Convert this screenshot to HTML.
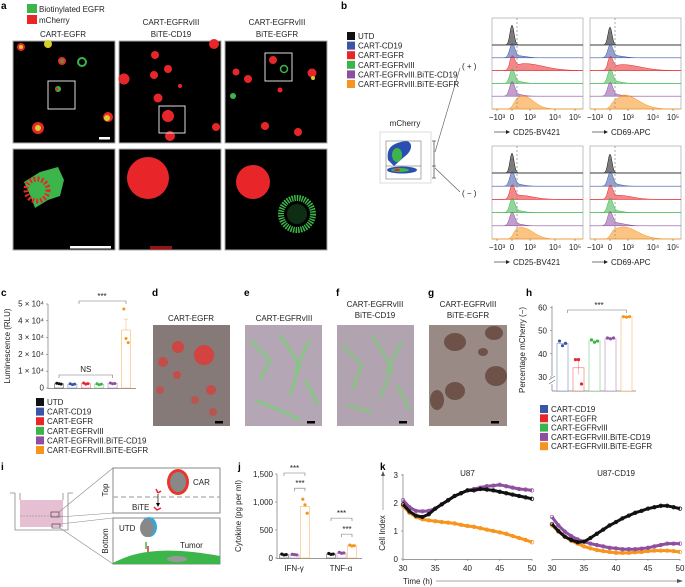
<!DOCTYPE html>
<html><head><meta charset="utf-8">
<style>
html,body{margin:0;padding:0;background:#fff;}
svg{display:block;font-family:"Liberation Sans",sans-serif;}
.t{font-size:8px;fill:#222;}
.lb{font-size:10px;font-weight:bold;fill:#000;}
</style></head>
<body>
<svg id="fig" width="685" height="587" viewBox="0 0 685 587" xmlns="http://www.w3.org/2000/svg">
<g>
<text class="lb" x="1" y="9">a</text>
<rect x="27" y="4" width="10" height="9" fill="#3cb54a"/>
<text class="t" x="39" y="12" font-size="8.5">Biotinylated EGFR</text>
<rect x="27" y="15" width="10" height="9" fill="#e8262a"/>
<text class="t" x="39" y="23" font-size="8.5">mCherry</text>
<text class="t" x="63" y="37" text-anchor="middle" font-size="8.5">CART-EGFR</text>
<text class="t" x="171" y="25" text-anchor="middle" font-size="8.5">CART-EGFRvIII</text>
<text class="t" x="171" y="37" text-anchor="middle" font-size="8.5">BiTE-CD19</text>
<text class="t" x="277" y="25" text-anchor="middle" font-size="8.5">CART-EGFRvIII</text>
<text class="t" x="277" y="37" text-anchor="middle" font-size="8.5">BiTE-EGFR</text>
<g>
<rect x="13" y="41" width="102" height="102" fill="#000" stroke="#aaa"/>
<circle cx="21" cy="47" r="4" fill="#e8262a"/><circle cx="21" cy="47" r="2" fill="#d8d02a"/>
<circle cx="48" cy="44" r="4" fill="#d8d02a"/><circle cx="62" cy="61" r="4" fill="#e8262a"/><circle cx="62" cy="61" r="2.5" fill="#3cb54a" opacity=".6"/>
<circle cx="82" cy="62" r="4" fill="none" stroke="#3cb54a" stroke-width="2"/>
<circle cx="58" cy="89" r="3" fill="#3cb54a"/><circle cx="57" cy="89" r="1.5" fill="#e8262a"/>
<rect x="48" y="81" width="27" height="28" fill="none" stroke="#ddd" stroke-width="1"/>
<circle cx="108" cy="117" r="5" fill="#e8262a"/><circle cx="107" cy="118" r="3" fill="#d8d02a"/>
<circle cx="38" cy="128" r="6" fill="#e8262a"/><circle cx="38" cy="128" r="3" fill="#d8d02a"/>
<rect x="99" y="137" width="11" height="2.5" fill="#fff"/>
</g>
<g>
<rect x="119" y="41" width="102" height="102" fill="#000" stroke="#aaa"/>
<circle cx="155" cy="55" r="4" fill="#e8262a"/><circle cx="214" cy="44" r="5" fill="#e8262a"/>
<circle cx="168" cy="69" r="4" fill="#e8262a"/><circle cx="154" cy="75" r="4" fill="#e8262a"/>
<circle cx="124" cy="79" r="5.5" fill="#e8262a"/><circle cx="180" cy="86" r="2" fill="#e8262a"/>
<circle cx="158" cy="98" r="4.5" fill="#e8262a"/><circle cx="168" cy="116" r="6" fill="#e8262a"/>
<circle cx="170" cy="136" r="5" fill="#e8262a"/><circle cx="216" cy="127" r="4" fill="#e8262a"/>
<rect x="159" y="106" width="26" height="27" fill="none" stroke="#ddd"/>
</g>
<g>
<rect x="225" y="41" width="102" height="102" fill="#000" stroke="#aaa"/>
<circle cx="273" cy="60" r="4" fill="#e8262a"/><circle cx="284" cy="69" r="3.5" fill="none" stroke="#3cb54a" stroke-width="1.5"/>
<rect x="265" y="53" width="27" height="28" fill="none" stroke="#ddd"/>
<circle cx="236" cy="72" r="3.5" fill="#e8262a"/><circle cx="248" cy="79" r="4" fill="#e8262a"/>
<circle cx="312" cy="73" r="4.5" fill="#e8262a"/><circle cx="313" cy="78" r="2" fill="#d8d02a"/>
<circle cx="280" cy="90" r="2.5" fill="#e8262a"/><circle cx="233" cy="96" r="3" fill="#3cb54a"/>
<circle cx="298" cy="132" r="4" fill="#e8262a"/><circle cx="265" cy="126" r="4" fill="#e8262a"/>
</g>
<g>
<rect x="13" y="149" width="102" height="101" fill="#000" stroke="#aaa"/>
<path d="M40 172 L58 167 L64 180 L60 196 L48 200 L35 208 L30 195 L24 182 Z" fill="#3cb54a"/>
<circle cx="37" cy="190" r="11" fill="none" stroke="#e8262a" stroke-width="5" stroke-dasharray="2 2"/>
<rect x="70" y="246" width="41" height="2.5" fill="#fff"/>
</g>
<g>
<rect x="119" y="149" width="102" height="101" fill="#000" stroke="#aaa"/>
<circle cx="148" cy="178" r="21" fill="#e8262a"/>
<rect x="150" y="246" width="22" height="4" fill="#e8262a" opacity=".6"/>
</g>
<g>
<rect x="225" y="149" width="102" height="101" fill="#000" stroke="#aaa"/>
<circle cx="253" cy="182" r="17" fill="#e8262a"/>
<circle cx="297" cy="214" r="16" fill="none" stroke="#3cb54a" stroke-width="6" stroke-dasharray="1.5 1"/>
<circle cx="297" cy="214" r="10" fill="#3cb54a" opacity=".25"/>
</g>
</g>

<g>
<text class="lb" x="341" y="9">b</text>
<g id="blegend"></g>
<text class="t" x="405" y="126" text-anchor="middle" font-size="8">mCherry</text>
<rect x="380" y="132" width="51" height="51" fill="#fff" stroke="#ddd"/>
<path d="M388 160 C386 148 392 143 406 141 C414 142 412 152 404 157 L394 166 Z" fill="#2a4fb0"/>
<ellipse cx="397" cy="155" rx="5" ry="7" fill="#3cb54a"/>
<ellipse cx="402" cy="170" rx="15" ry="3.5" fill="#2a4fb0"/>
<ellipse cx="400" cy="170" rx="9" ry="2" fill="#3cb54a"/><ellipse cx="397" cy="170" rx="3" ry="1.2" fill="#e8262a"/>
<rect x="386" y="141" width="35" height="38" fill="none" stroke="#777" stroke-width=".6"/>
<line x1="386" y1="166" x2="421" y2="166" stroke="#555" stroke-width=".6"/>
<path d="M434 141 L434 178 M432 141 L436 141 M432 178 L436 178 M432 166 L436 166" stroke="#555" fill="none" stroke-width=".8"/>
<line x1="435" y1="152" x2="460" y2="68" stroke="#555" stroke-width=".6"/>
<line x1="435" y1="168" x2="460" y2="192" stroke="#555" stroke-width=".6"/>
<text class="t" x="462" y="69" font-size="8">( + )</text>
<text class="t" x="462" y="196" font-size="8">( − )</text>
<g id="hists"></g>
</g>

<g id="pc">
<text class="lb" x="1" y="296">c</text>
<text class="t" x="10" y="346" transform="rotate(-90 10 346)" text-anchor="middle" font-size="7.5">Luminescence (RLU)</text>
</g>

<g>
<text class="lb" x="152" y="296">d</text>
<text class="t" x="191" y="321" text-anchor="middle" font-size="7.5">CART-EGFR</text>
<rect x="153" y="325" width="77" height="101" fill="#857a77"/>
<circle cx="204" cy="355" r="10" fill="#e03a35" opacity=".85"/><circle cx="178" cy="347" r="6" fill="#e03a35" opacity=".8"/>
<circle cx="163" cy="362" r="5" fill="#e03a35" opacity=".7"/><circle cx="177" cy="375" r="4" fill="#e03a35" opacity=".7"/>
<circle cx="211" cy="390" r="5" fill="#e03a35" opacity=".7"/><circle cx="160" cy="390" r="4" fill="#e03a35" opacity=".6"/>
<circle cx="195" cy="400" r="4" fill="#e03a35" opacity=".6"/><circle cx="213" cy="412" r="4" fill="#e03a35" opacity=".6"/>
<rect x="215" y="421" width="8" height="2.5" fill="#000"/>
</g>
<g>
<text class="lb" x="244" y="296">e</text>
<text class="t" x="284" y="321" text-anchor="middle" font-size="7.5">CART-EGFRvIII</text>
<rect x="245" y="325" width="77" height="101" fill="#b4a6b4"/>
<path d="M250 340 L270 360 L260 380 M280 335 L300 365 L290 395 M310 340 L295 370 M255 400 L280 410 L300 420 M305 380 L318 405" stroke="#7ccc7a" stroke-width="3" fill="none" opacity=".8"/>
<rect x="307" y="421" width="8" height="2.5" fill="#000"/>
</g>
<g>
<text class="lb" x="336" y="296">f</text>
<text class="t" x="375" y="307" text-anchor="middle" font-size="7.5">CART-EGFRvIII</text>
<text class="t" x="375" y="318" text-anchor="middle" font-size="7.5">BiTE-CD19</text>
<rect x="337" y="325" width="77" height="101" fill="#b1a3b0"/>
<path d="M342 345 L362 365 L352 390 M372 335 L392 368 L380 398 M402 342 L386 372 M347 405 L372 412 M397 385 L410 410" stroke="#80c87c" stroke-width="3" fill="none" opacity=".75"/>
<rect x="399" y="421" width="8" height="2.5" fill="#000"/>
</g>
<g>
<text class="lb" x="428" y="296">g</text>
<text class="t" x="468" y="307" text-anchor="middle" font-size="7.5">CART-EGFRvIII</text>
<text class="t" x="468" y="318" text-anchor="middle" font-size="7.5">BiTE-EGFR</text>
<rect x="429" y="325" width="78" height="101" fill="#9a8a85"/>
<ellipse cx="455" cy="342" rx="11" ry="9" fill="#6e5249"/><ellipse cx="494" cy="333" rx="9" ry="7" fill="#6e5249"/>
<ellipse cx="496" cy="376" rx="11" ry="10" fill="#6e5249"/><ellipse cx="455" cy="391" rx="10" ry="9" fill="#6e5249"/>
<ellipse cx="437" cy="400" rx="7" ry="10" fill="#6e5249"/><ellipse cx="483" cy="352" rx="5" ry="4" fill="#6e5249"/>
<rect x="491" y="421" width="8" height="2.5" fill="#000"/>
</g>

<g id="ph">
<text class="lb" x="526" y="296">h</text>
<text class="t" x="525" y="350" transform="rotate(-90 525 350)" text-anchor="middle" font-size="7.5">Percentage mCherry (−)</text>
</g>

<g>
<text class="lb" x="1" y="470">i</text>
<path d="M15 493 L15 530 L68 530 L68 493" fill="none" stroke="#888" stroke-width=".8"/>
<path d="M20 500 L20 527 L63 527 L63 500 Z" fill="#e7bfd2"/>
<path d="M10 493 L15 493 M68 493 L73 493 M20 493 L20 500 M63 493 L63 500" stroke="#888" stroke-width=".8"/>
<line x1="20" y1="516" x2="63" y2="516" stroke="#888" stroke-dasharray="2 1" stroke-width=".6"/>
<rect x="51" y="512" width="8" height="5" fill="none" stroke="#333" stroke-width=".6"/>
<rect x="52" y="524" width="8" height="4" fill="none" stroke="#333" stroke-width=".6"/>
<line x1="59" y1="512" x2="113" y2="468" stroke="#888" stroke-width=".6"/>
<line x1="59" y1="517" x2="113" y2="513" stroke="#888" stroke-width=".6"/>
<line x1="60" y1="524" x2="113" y2="518" stroke="#888" stroke-width=".6"/>
<line x1="60" y1="528" x2="113" y2="564" stroke="#888" stroke-width=".6"/>
<rect x="113" y="468" width="107" height="45" fill="#fff" stroke="#888"/>
<rect x="113" y="518" width="107" height="46" fill="#fff" stroke="#888"/>
<text class="t" x="108" y="490" transform="rotate(-90 108 490)" font-size="8" text-anchor="middle">Top</text>
<text class="t" x="108" y="541" transform="rotate(-90 108 541)" font-size="8" text-anchor="middle">Bottom</text>
<line x1="113" y1="497" x2="220" y2="497" stroke="#aaa" stroke-dasharray="5 3" stroke-width="1.2"/>
<ellipse cx="178" cy="482" rx="11" ry="13" fill="#e8362a"/><ellipse cx="178" cy="482" rx="8" ry="10" fill="#888"/>
<text class="t" x="193" y="485" font-size="8">CAR</text>
<path d="M156 489 L158 493 M158 493 L161 491" stroke="#e8262a" stroke-width="1.5"/>
<line x1="158" y1="494" x2="158" y2="505" stroke="#000" stroke-width=".7"/>
<path d="M156 503 L158 507 L160 503" fill="#000"/>
<text class="t" x="132" y="510" font-size="8">BiTE</text>
<path d="M154 507 L157 510 L161 508" stroke="#e8262a" stroke-width="1.5" fill="none"/>
<ellipse cx="149" cy="527" rx="8" ry="10" fill="#36a6dd"/><ellipse cx="147" cy="528" rx="7" ry="9" fill="#888"/>
<text class="t" x="119" y="531" font-size="8">UTD</text>
<path d="M146 542 L146 549" stroke="#3cb54a" stroke-width="1.5"/><path d="M148 546 L148 552" stroke="#e8262a" stroke-width="1.5"/>
<text class="t" x="180" y="548" font-size="7.5">Tumor</text>
<path d="M113 563 C140 548 175 548 220 556 L220 564 L113 564 Z" fill="#3cb54a"/>
<ellipse cx="177" cy="559" rx="10" ry="3" fill="#999"/>
</g>

<g id="pj">
<text class="lb" x="238" y="470">j</text>
<text class="t" x="241" y="516" transform="rotate(-90 241 516)" text-anchor="middle" font-size="7.5">Cytokine (pg per ml)</text>
</g>

<g id="pk">
<text class="lb" x="380" y="470">k</text>
<text class="t" x="385" y="533" transform="rotate(-90 385 533)" text-anchor="middle" font-size="7.5">Cell Index</text>
<line x1="383" y1="510" x2="383" y2="474" stroke="#888" stroke-width=".7"/>
<path d="M381 476 L383 471 L385 476 Z" fill="#555"/>
<text class="t" x="403" y="584" font-size="7.5">Time (h)</text>
<line x1="436" y1="581" x2="680" y2="581" stroke="#888" stroke-width=".7"/>
<path d="M677 579 L683 581 L677 583 Z" fill="#555"/>
</g>
</svg>
<script>
const NS="http://www.w3.org/2000/svg";
const svg=document.getElementById('fig');
function mk(tag,attrs,parent){const e=document.createElementNS(NS,tag);for(const k in attrs)e.setAttribute(k,attrs[k]);(parent||svg).appendChild(e);return e;}
const groupNames=["UTD","CART-CD19","CART-EGFR","CART-EGFRvIII","CART-EGFRvIII.BiTE-CD19","CART-EGFRvIII.BiTE-EGFR"];
const groupColors=["#111111","#3a55a5","#e8262a","#3ab54a","#8e4fa0","#f7941d"];

function legend(parent,x,y0,dy,idxs,fs){
  idxs.forEach((gi,k)=>{
    const r=mk('rect',{x:x,y:y0+k*dy-7,width:8,height:8,fill:groupColors[gi]},parent);
    
    
    const t=mk('text',{x:x+11,y:y0+k*dy,class:'t','font-size':fs},parent);
    t.textContent=groupNames[gi];
    
    
  });
}
legend(document.getElementById('blegend'),347,39,9.6,[0,1,2,3,4,5],7.5);
legend(document.getElementById('pc'),36,405,9.6,[0,1,2,3,4,5],7.5);
legend(document.getElementById('ph'),540,412,9.3,[1,2,3,4,5],7.5);

// per row: [peakPos, peakHeight, peakWidth, broadPos, broadHeight, broadWidth]
const histCD25plus=[[0,20,2,0,0,1],[0.2,14,2.5,6,2,6],[0.2,12,2.5,12,7,15],[0.2,14,2.5,5,2,5],[0,14,2.5,4,2,5],[4,5,3,11,13,8]];
const histCD69plus=[[0,18,2,0,0,1],[0.3,13,2.5,6,2,6],[0.3,12,2.5,12,6,14],[0.2,14,2.5,5,2,5],[0,13,2.5,4,2,5],[4,4,3,14,14,11]];
const histCD25minus=[[0,20,2,0,0,1],[0.2,14,2.5,5,2,5],[0.2,13,2.5,8,4,10],[0.2,14,2.5,5,2,5],[0,13,2.5,4,2,5],[4,6,3,11,11,8]];
const histCD69minus=[[0,19,2,0,0,1],[0.3,14,2.5,5,2,5],[0.3,13,2.5,9,4,10],[0.2,14,2.5,5,2,5],[0,13,2.5,5,3,7],[4,5,3,13,12,11]];
const histLabels=["−10³","0","10³","10⁴","10⁵"];
const histTickPos=[-15,0,18,43,63];
const hg=document.getElementById('hists');
function histPanel(x0,y0,w,y1,data,label,zero){
  const g=mk('g',{},hg);
  
  
  mk('rect',{x:x0,y:y0,width:w,height:y1-y0,fill:'#fff',stroke:'#999','stroke-width':.6},g);
  const rowH=(y1-y0-27)/5;
  for(let r=0;r<6;r++){
    const base=r<5? y0+27+r*rowH : y1;
    const d=data[r];
    let p=`M${x0} ${base}`;
    for(let xx=x0;xx<=x0+w;xx+=1){
      const u=xx-zero;
      let v=d[1]*Math.exp(-((u-d[0])**2)/(2*d[2]*d[2]));
      if(d[4]>0){const s=u<d[3]?d[5]*0.6:d[5]*1.3; v+=d[4]*Math.exp(-((u-d[3])**2)/(2*s*s))*(u>-3?1:0);}
      p+=` L${xx} ${base-Math.min(v,rowH+13)}`;
    }
    p+=` L${x0+w} ${base} Z`;
    const path=mk('path',{d:p,fill:groupColors[r],'fill-opacity':0.55,stroke:groupColors[r],'stroke-width':.5},g);
    
    
    mk('line',{x1:x0,y1:base,x2:x0+w,y2:base,stroke:groupColors[r],'stroke-width':.5,'stroke-opacity':.6},g);
  }
  mk('line',{x1:zero+5,y1:y0,x2:zero+5,y2:y1,stroke:'#888','stroke-dasharray':'2 2','stroke-width':.7},g);
  histTickPos.forEach((t,i)=>{
    mk('line',{x1:zero+t,y1:y1,x2:zero+t,y2:y1+2,stroke:'#555','stroke-width':.5},g);
    const tx=mk('text',{x:zero+t,y:y1+11,class:'t','font-size':7,'text-anchor':'middle'},g);
    tx.textContent=histLabels[i];
  });
  mk('line',{x1:x0+2,y1:y1+23,x2:x0+14,y2:y1+23,stroke:'#777','stroke-width':1},g);
  mk('path',{d:`M${x0+14} ${y1+21} L${x0+18} ${y1+23} L${x0+14} ${y1+25} Z`,fill:'#222'},g);
  const ax=mk('text',{x:x0+21,y:y1+26,class:'t','font-size':8},g);ax.textContent=label;
}
histPanel(492,18,91,109,histCD25plus,'CD25-BV421',512);
histPanel(590,18,91,109,histCD69plus,'CD69-APC',610);
histPanel(492,146,91,239,histCD25minus,'CD25-BV421',512);
histPanel(590,146,91,239,histCD69minus,'CD69-APC',610);

// panel c
const cCats=["UTD","CART-CD19","CART-EGFR","CART-EGFRvIII","BiTE-CD19","BiTE-EGFR"];
const cMeans=[2500,2200,2600,2200,2700,34500];
const cPts=[[2800,2500,2300],[2500,2000,2300],[3000,2300,2600],[2500,1900,2300],[3000,2500,2700],[47000,29500,27000]];
const cErr=[300,300,400,300,400,6500];
const cTicks=[0,10000,20000,30000,40000,50000];
const cTickLabels=["0","1 × 10⁴","2 × 10⁴","3 × 10⁴","4 × 10⁴","5 × 10⁴"];
(function(){
  const g=document.getElementById('pc');
  const y=v=>388-v/50000*84, x=i=>59+i*13.4;
  mk('line',{x1:48,y1:304,x2:48,y2:389,stroke:'#777','stroke-width':.7},g);
  mk('line',{x1:48,y1:388.5,x2:136,y2:388.5,stroke:'#777','stroke-width':.7},g);
  cTicks.forEach((t,i)=>{mk('line',{x1:46,y1:y(t),x2:48,y2:y(t),stroke:'#777','stroke-width':.6},g);
    const tx=mk('text',{x:44,y:y(t)+2.5,class:'t','font-size':7,'text-anchor':'end'},g);tx.textContent=cTickLabels[i];});
  cMeans.forEach((m,i)=>{
    const c=groupColors[i];
    const b=mk('rect',{x:x(i)-4.5,y:y(m),width:9,height:388-y(m),fill:'#fff',stroke:c,'stroke-width':.8,'stroke-opacity':.5},g);
    
    
    mk('line',{x1:x(i),y1:y(m),x2:x(i),y2:y(m+cErr[i]),stroke:c,'stroke-width':.6,'stroke-opacity':.6},g);
    mk('line',{x1:x(i)-2,y1:y(m+cErr[i]),x2:x(i)+2,y2:y(m+cErr[i]),stroke:c,'stroke-width':.6,'stroke-opacity':.6},g);
    cPts[i].forEach((p,k)=>mk('circle',{cx:x(i)+(k-1)*2.2,cy:y(p),r:1.5,fill:c},g));
  });
  mk('path',{d:`M${x(0)} 378 L${x(0)} 375 L${x(4)} 375 L${x(4)} 378`,fill:'none',stroke:'#777','stroke-width':.6},g);
  const ns=mk('text',{x:(x(0)+x(4))/2,y:372,class:'t','font-size':8,'text-anchor':'middle'},g);ns.textContent='NS';
  mk('path',{d:`M${x(0)+20} 304 L${x(0)+20} 301 L${x(5)} 301 L${x(5)} 304`,fill:'none',stroke:'#777','stroke-width':.6},g);
  const st=mk('text',{x:102,y:299,class:'t','font-size':7,'text-anchor':'middle'},g);st.textContent='***';
})();

// panel h
const hCats=["CART-CD19","CART-EGFR","CART-EGFRvIII","BiTE-CD19","BiTE-EGFR"];
const hMeans=[44.5,34,45.5,46.5,56];
const hPts=[[45.5,43.5,44.5],[37.5,37.5,27],[46,45,45.5],[46.8,46.5,46.8],[56,55.8,56]];
const hTicks=[30,40,50,60];
(function(){
  const g=document.getElementById('ph');
  const y=v=>377-(v-30)*2.32, x=i=>562.5+i*16;
  mk('line',{x1:552,y1:306,x2:552,y2:376,stroke:'#777','stroke-width':.7},g);
  mk('path',{d:'M549 380 L555 376 M549 384 L555 380',stroke:'#777','stroke-width':.7},g);
  mk('line',{x1:552,y1:384,x2:552,y2:391,stroke:'#777','stroke-width':.7},g);
  mk('line',{x1:552,y1:391,x2:636,y2:391,stroke:'#777','stroke-width':.7},g);
  hTicks.forEach(t=>{mk('line',{x1:550,y1:y(t),x2:552,y2:y(t),stroke:'#777','stroke-width':.6},g);
    const tx=mk('text',{x:547,y:y(t)+3,class:'t','font-size':8,'text-anchor':'end'},g);tx.textContent=t;});
  hMeans.forEach((m,i)=>{
    const c=groupColors[i+1];
    const b=mk('rect',{x:x(i)-5.5,y:y(m),width:11,height:391-y(m),fill:'#fff',stroke:c,'stroke-width':.8,'stroke-opacity':.5},g);
    
    
    hPts[i].forEach((p,k)=>mk('circle',{cx:x(i)+(k-1)*3,cy:y(p),r:1.6,fill:c},g));
  });
  mk('line',{x1:x(1),y1:y(31),x2:x(1),y2:y(37),stroke:'#e8262a','stroke-width':.6,'stroke-opacity':.5},g);
  mk('path',{d:`M${x(0)+5} 313 L${x(0)+5} 310 L${x(4)} 310 L${x(4)} 313`,fill:'none',stroke:'#777','stroke-width':.6},g);
  const st=mk('text',{x:599,y:308,class:'t','font-size':7,'text-anchor':'middle'},g);st.textContent='***';
})();

// panel j
const jCats=["IFN-γ","TNF-α"];
const jSeriesIdx=[0,4,5];
const jMeans=[[60,60,920],[70,90,220]];
const jPts=[[[70,55,60],[65,60,55],[1050,950,800]],[[80,65,70],[100,85,90],[230,215,220]]];
const jTicks=[0,500,1000,1500];
const jTickLabels=["0","500","1,000","1,500"];
(function(){
  const g=document.getElementById('pj');
  const y=v=>558-v*0.056;
  mk('line',{x1:277,y1:474,x2:277,y2:559,stroke:'#777','stroke-width':.7},g);
  mk('line',{x1:277,y1:558.5,x2:362,y2:558.5,stroke:'#777','stroke-width':.7},g);
  jTicks.forEach((t,i)=>{mk('line',{x1:275,y1:y(t),x2:277,y2:y(t),stroke:'#777','stroke-width':.6},g);
    const tx=mk('text',{x:273,y:y(t)+3,class:'t','font-size':8,'text-anchor':'end'},g);tx.textContent=jTickLabels[i];});
  jCats.forEach((cat,gi)=>{
    const gx=284+gi*47;
    jSeriesIdx.forEach((si,k)=>{
      const cx=gx+k*10.5, c=groupColors[si], m=jMeans[gi][k];
      const b=mk('rect',{x:cx-4.5,y:y(m),width:9,height:558-y(m),fill:'#fff',stroke:c,'stroke-width':.8,'stroke-opacity':.5},g);
      
      
      jPts[gi][k].forEach((p,q)=>mk('circle',{cx:cx+(q-1)*2.2,cy:y(p),r:1.6,fill:c},g));
    });
    const lt=mk('text',{x:gx+10,y:571,class:'t','font-size':8,'text-anchor':'middle'},g);lt.textContent=cat;
    const topY=y(Math.max(...jPts[gi][2]))-8;
    mk('path',{d:`M${gx} ${gi?topY-16:476} l0 -3 L${gx+21} ${gi?topY-19:473} l0 3`,fill:'none',stroke:'#777','stroke-width':.6},g);
    mk('path',{d:`M${gx+10.5} ${topY} l0 -3 L${gx+21} ${topY-3} l0 3`,fill:'none',stroke:'#777','stroke-width':.6},g);
    const s1=mk('text',{x:gx+10.5,y:gi?topY-21:471,class:'t','font-size':7,'text-anchor':'middle'},g);s1.textContent='***';
    const s2=mk('text',{x:gx+16,y:topY-5,class:'t','font-size':7,'text-anchor':'middle'},g);s2.textContent='***';
  });
})();

// panel k
const kHours=[30,31,32,33,34,35,36,37,38,39,40,41,42,43,44,45,46,47,48,49,50];
const u87Black=[1.95,1.7,1.55,1.5,1.6,1.8,1.95,2.1,2.25,2.35,2.45,2.45,2.5,2.48,2.45,2.4,2.35,2.3,2.25,2.2,2.15];
const u87Purple=[2.1,1.85,1.72,1.7,1.72,1.8,1.95,2.1,2.25,2.35,2.45,2.5,2.55,2.6,2.62,2.65,2.6,2.55,2.5,2.48,2.45];
const u87Orange=[1.9,1.65,1.5,1.42,1.38,1.35,1.32,1.3,1.27,1.22,1.18,1.15,1.1,1.05,1.0,0.95,0.9,0.82,0.75,0.68,0.6];
const cd19Black=[1.25,1.0,0.8,0.68,0.6,0.62,0.75,0.9,1.05,1.2,1.32,1.45,1.55,1.65,1.72,1.8,1.85,1.9,1.9,1.85,1.8];
const cd19Purple=[1.5,1.2,0.98,0.82,0.7,0.62,0.55,0.5,0.45,0.4,0.38,0.35,0.35,0.35,0.37,0.4,0.45,0.5,0.55,0.55,0.55];
const cd19Orange=[1.2,0.98,0.8,0.65,0.55,0.45,0.38,0.32,0.28,0.25,0.22,0.22,0.22,0.24,0.25,0.28,0.3,0.3,0.3,0.28,0.25];
const kXTicks=[30,35,40,45,50];
const kYTicks=[0,1,2,3];
(function(){
  const g=document.getElementById('pk');
  const y=v=>559-v*28;
  function sub(x0,x1,title,series,showY){
    const x=h=>x0+(h-30)/20*(x1-x0);
    const tt=mk('text',{x:(x0+x1)/2,y:476,class:'t','font-size':8,'text-anchor':'middle'},g);tt.textContent=title;
    if(showY){
      mk('line',{x1:x0,y1:474,x2:x0,y2:559,stroke:'#777','stroke-width':.7},g);
      kYTicks.forEach(t=>{mk('line',{x1:x0-2,y1:y(t),x2:x0,y2:y(t),stroke:'#777','stroke-width':.6},g);
        const tx=mk('text',{x:x0-5,y:y(t)+3,class:'t','font-size':8,'text-anchor':'end'},g);tx.textContent=t;});
    }
    mk('line',{x1:x0,y1:559.5,x2:x1,y2:559.5,stroke:'#777','stroke-width':.7},g);
    kXTicks.forEach(t=>{mk('line',{x1:x(t),y1:559,x2:x(t),y2:561,stroke:'#777','stroke-width':.6},g);
      const tx=mk('text',{x:x(t),y:571,class:'t','font-size':8,'text-anchor':'middle'},g);tx.textContent=t;});
    series.forEach(([vals,ci,nm])=>{
      const c=groupColors[ci];
      const pl=mk('polyline',{points:vals.map((v,i)=>x(kHours[i])+','+y(v)).join(' '),fill:'none',stroke:c,'stroke-width':3,'stroke-linejoin':'round'},g);
      
      
      vals.forEach((v,i)=>mk('circle',{cx:x(kHours[i]),cy:y(v),r:1.8,fill:'none',stroke:c,'stroke-width':.7},g));
    });
  }
  sub(403,532,'U87',[[u87Orange,5,'u87-bite-egfr'],[u87Purple,4,'u87-bite-cd19'],[u87Black,0,'u87-utd']],true);
  sub(552,680,'U87-CD19',[[cd19Orange,5,'cd19-bite-egfr'],[cd19Purple,4,'cd19-bite-cd19'],[cd19Black,0,'cd19-utd']],false);
})();
</script>
</body></html>
